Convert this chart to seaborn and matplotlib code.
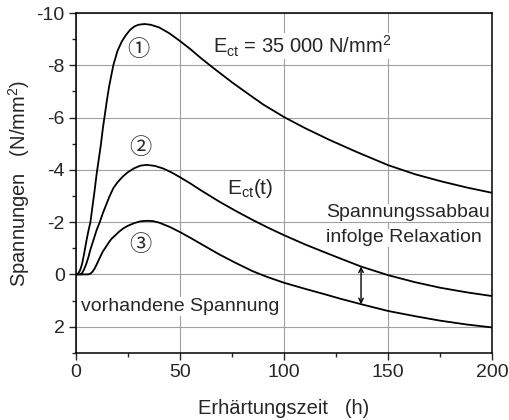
import numpy as np
import pandas as pd
import matplotlib
matplotlib.use('Agg')
import matplotlib.pyplot as plt
import seaborn as sns
from matplotlib.ticker import MultipleLocator

# curve 1: constant E_ct = 35 000 N/mm2
t1 = [0, 1, 2, 3, 4, 5, 6, 7, 8, 9, 10, 11, 12, 13, 14, 15, 16, 17, 18, 20, 22, 24, 26, 28, 30,
      33, 36, 40, 45, 50, 55, 60, 66, 75, 82, 90, 100, 110, 122, 135, 150, 163, 176, 188, 200]
v1 = [0, -0.02, -0.15, -0.4, -0.8, -1.25, -1.65, -2.0, -2.6, -3.2, -3.85, -4.4, -4.95, -5.6, -6.15,
      -6.7, -7.2, -7.6, -8.0, -8.55, -8.9, -9.15, -9.35, -9.48, -9.55, -9.58, -9.55, -9.45, -9.22,
      -8.93, -8.62, -8.28, -7.9, -7.35, -6.95, -6.5, -6.02, -5.6, -5.14, -4.68, -4.18, -3.83,
      -3.55, -3.32, -3.12]

# curve 2: E_ct(t)
t2 = [0, 2, 3, 4, 5, 6, 7, 8, 9, 10, 11.5, 13, 14, 16, 18, 20, 22.5, 25, 28, 31, 34, 38, 42, 46,
      50, 55, 60, 69, 77, 85, 92, 100, 110, 120, 127, 137, 150, 163, 175, 188, 200]
v2 = [0, 0, -0.05, -0.2, -0.4, -0.65, -0.95, -1.2, -1.45, -1.7, -2.0, -2.35, -2.55, -2.95, -3.3,
      -3.52, -3.74, -3.91, -4.06, -4.16, -4.19, -4.15, -4.05, -3.9, -3.72, -3.48, -3.22, -2.78,
      -2.42, -2.08, -1.8, -1.5, -1.15, -0.83, -0.61, -0.3, 0.03, 0.3, 0.51, 0.69, 0.83]

# curve 3: vorhandene Spannung (with relaxation)
t3 = [0, 4, 6, 7, 8, 9, 10, 11, 12, 13, 14, 15, 16, 17, 19, 21, 23, 25, 28, 31, 34, 37, 40, 45,
      50, 55, 60, 69, 77, 85, 92, 100, 110, 120, 127, 137, 150, 163, 175, 188, 200]
v3 = [0, 0, 0, -0.03, -0.1, -0.22, -0.38, -0.55, -0.72, -0.88, -1.0, -1.12, -1.24, -1.35, -1.5,
      -1.65, -1.77, -1.86, -1.96, -2.03, -2.05, -2.04, -1.98, -1.82, -1.62, -1.4, -1.17, -0.76,
      -0.43, -0.12, 0.1, 0.32, 0.55, 0.77, 0.93, 1.14, 1.4, 1.6, 1.77, 1.92, 2.03]

# relaxation arrow between curve 2 and 3
arrow_t = 137
arrow_from = -0.3
arrow_to = 1.14

sns.set_style('ticks')
plt.rcParams['font.family'] = ['Liberation Sans', 'DejaVu Sans']
plt.rcParams['mathtext.default'] = 'regular'
plt.rcParams['axes.unicode_minus'] = False

fig = plt.figure(figsize=(5.09, 4.2), dpi=100)
ax = fig.add_axes([0.149, 0.160, 0.818, 0.809])

for t, v in [(t1, v1), (t2, v2), (t3, v3)]:
    sns.lineplot(x=t, y=v, ax=ax, color='black', lw=1.3, zorder=3)

ax.set_xlim(0, 200)
ax.set_ylim(3, -10)
ax.xaxis.set_major_locator(MultipleLocator(50))
ax.xaxis.set_minor_locator(MultipleLocator(25))
ax.yaxis.set_major_locator(MultipleLocator(2))
ax.yaxis.set_minor_locator(MultipleLocator(1))
ax.grid(True, which='major', color='#a0a0a0', lw=0.8, zorder=0)
ax.tick_params(which='major', direction='out', length=5, width=1, labelsize=14, pad=3)
ax.tick_params(which='minor', direction='out', length=3, width=1)
for s in ax.spines.values():
    s.set_linewidth(1.1)
    s.set_color('black')
    s.set_zorder(2)

ax.set_xlabel('Erhärtungszeit   (h)', fontsize=14.5, labelpad=13)
ax.set_ylabel('Spannungen   (N/mm$^2$)', fontsize=14.5, labelpad=3)

box = dict(facecolor='white', edgecolor='none', pad=0.5)
ax.text(66, -8.74, '$E_{ct}$ = 35 000 N/mm$^2$', fontsize=14.5, va='center', ha='left',
        bbox=box, zorder=4)
ax.text(72.5, -3.3, '$E_{ct}$(t)', fontsize=15, va='center', ha='left', zorder=4)
ax.text(120, -2.35, 'Spannungssabbau', fontsize=14, va='center', ha='left', bbox=box, zorder=4)
ax.text(120, -1.4, 'infolge Relaxation', fontsize=14, va='center', ha='left', bbox=box, zorder=4)
ax.text(2.7, 1.22, 'vorhandene Spannung', fontsize=14, va='center', ha='left', bbox=box, zorder=4)

circ = ['Noto Sans CJK JP', 'DejaVu Sans']
ax.text(29.8, -8.6, '\u2460', fontsize=16, ha='center', va='center', family=circ, zorder=4)
ax.text(30.8, -4.85, '\u2461', fontsize=16, ha='center', va='center', family=circ, zorder=4)
ax.text(30.8, -1.15, '\u2462', fontsize=16, ha='center', va='center', family=circ, zorder=4)

ax.annotate('', xy=(arrow_t, arrow_to), xytext=(arrow_t, arrow_from),
            arrowprops=dict(arrowstyle='<->', color='black', lw=1.0,
                            shrinkA=0, shrinkB=0, mutation_scale=8), zorder=4)

fig.savefig('out.png', dpi=100)
